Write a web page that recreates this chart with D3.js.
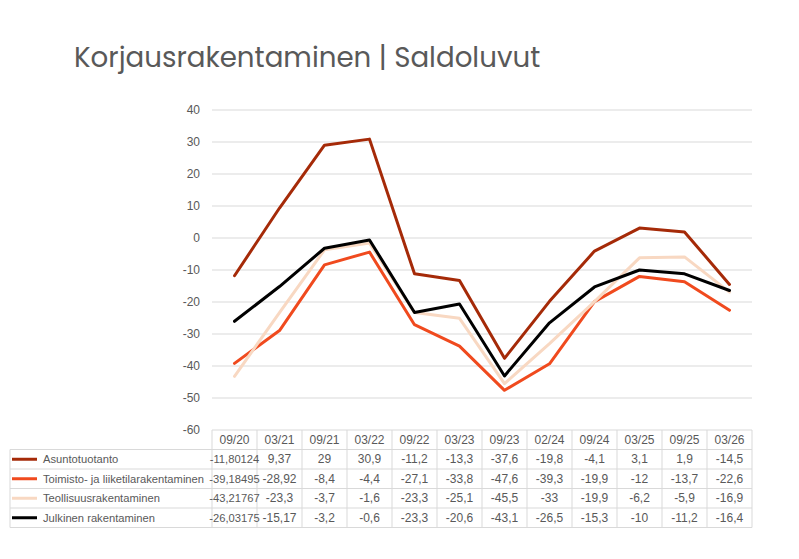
<!DOCTYPE html>
<html><head><meta charset="utf-8">
<script src="https://cdn.jsdelivr.net/npm/d3@7"></script>
<style>body{margin:0;background:#fff}svg{display:block}</style>
</head><body>
<svg id="c" width="799" height="559"></svg>
<script>
const categories = ["09/20","03/21","09/21","03/22","09/22","03/23","09/23","02/24","09/24","03/25","09/25","03/26"];
const seriesNames = ["Asuntotuotanto","Toimisto- ja liiketilarakentaminen","Teollisuusrakentaminen","Julkinen rakentaminen"];
const asunto = [-11.80124, 9.37, 29, 30.9, -11.2, -13.3, -37.6, -19.8, -4.1, 3.1, 1.9, -14.5];
const toimisto = [-39.18495, -28.92, -8.4, -4.4, -27.1, -33.8, -47.6, -39.3, -19.9, -12, -13.7, -22.6];
const teollisuus = [-43.21767, -23.3, -3.7, -1.6, -23.3, -25.1, -45.5, -33, -19.9, -6.2, -5.9, -16.9];
const julkinen = [-26.03175, -15.17, -3.2, -0.6, -23.3, -20.6, -43.1, -26.5, -15.3, -10, -11.2, -16.4];
const yTicks = [40,30,20,10,0,-10,-20,-30,-40,-50,-60];
const colors = ["#A52A08","#F04A1E","#F8D8C2","#000000"];
const series = [asunto, toimisto, teollisuus, julkinen];
const title = "Korjausrakentaminen | Saldoluvut";

(function () {
const svg = d3.select("#c");
const pLeft = 212, pRight = 752, pTop = 110, pBottom = 430;
const x = d3.scaleBand().domain(categories).range([pLeft, pRight]);
const y = d3.scaleLinear().domain([-60, 40]).range([pBottom, pTop]);
const txt = "#595959", grid = "#D9D9D9";
const font = "'Liberation Sans', Arial, sans-serif";

svg.append("text").attr("x", 74).attr("y", 67).text(title)
  .attr("font-family", "Poppins, 'Open Sans', sans-serif").attr("font-size", 27.7).attr("fill", txt);

svg.append("g").selectAll("line").data(yTicks.filter(t => t !== -60)).join("line")
  .attr("x1", pLeft).attr("x2", pRight).attr("y1", d => y(d)).attr("y2", d => y(d))
  .attr("stroke", grid).attr("stroke-width", 1);

const yAxis = d3.axisLeft(y).tickValues(yTicks).tickSize(0).tickPadding(0).tickFormat(d => String(d));
const ga = svg.append("g").attr("transform", `translate(${pLeft - 12},0)`).call(yAxis);
ga.select(".domain").remove();
ga.selectAll("text").attr("font-family", font).attr("font-size", 12).attr("fill", txt);

const line = d3.line().x((d, i) => x(categories[i]) + x.bandwidth() / 2).y(d => y(d));
series.forEach((s, k) => {
  svg.append("path").datum(s).attr("d", line).attr("fill", "none")
    .attr("stroke", colors[k]).attr("stroke-width", 3).attr("stroke-linejoin", "round").attr("stroke-linecap", "round");
});

const headTop = 430, rowH = 19.5, tableLeft = 10;
const tg = svg.append("g");
const rowsY = [headTop, headTop + rowH];
for (let i = 0; i < 4; i++) rowsY.push(headTop + rowH * (i + 2));
tg.append("line").attr("x1", pLeft).attr("x2", pRight).attr("y1", headTop).attr("y2", headTop).attr("stroke", grid);
for (let i = 1; i < rowsY.length; i++) {
  tg.append("line").attr("x1", tableLeft).attr("x2", pRight).attr("y1", rowsY[i]).attr("y2", rowsY[i]).attr("stroke", grid);
}
const vx = categories.map(c => x(c)).concat([pRight]);
vx.forEach(v => tg.append("line").attr("x1", v).attr("x2", v).attr("y1", headTop).attr("y2", rowsY[rowsY.length - 1]).attr("stroke", grid));
tg.append("line").attr("x1", tableLeft).attr("x2", tableLeft).attr("y1", rowsY[1]).attr("y2", rowsY[rowsY.length - 1]).attr("stroke", grid);

tg.selectAll("text.h").data(categories).join("text").attr("class", "h")
  .attr("x", d => x(d) + x.bandwidth() / 2).attr("y", headTop + rowH / 2).attr("dy", "0.35em")
  .attr("text-anchor", "middle").attr("font-family", font).attr("font-size", 12).attr("fill", txt).text(d => d);

const fmt = v => String(v).replace(".", ",");
series.forEach((s, k) => {
  const cy = rowsY[k + 1] + rowH / 2;
  tg.append("line").attr("x1", 12).attr("x2", 37).attr("y1", cy).attr("y2", cy)
    .attr("stroke", colors[k]).attr("stroke-width", 3);
  tg.append("text").attr("x", 43).attr("y", cy).attr("dy", "0.35em")
    .attr("font-family", font).attr("font-size", 11.2).attr("fill", txt).text(seriesNames[k]);
  tg.selectAll(null).data(s).join("text")
    .attr("x", (d, i) => x(categories[i]) + x.bandwidth() / 2).attr("y", cy).attr("dy", "0.35em")
    .attr("text-anchor", "middle").attr("font-family", font)
    .attr("font-size", (d, i) => i === 0 ? 11.2 : 12).attr("fill", txt).text(d => fmt(d));
});
})();
</script>
</body></html>
